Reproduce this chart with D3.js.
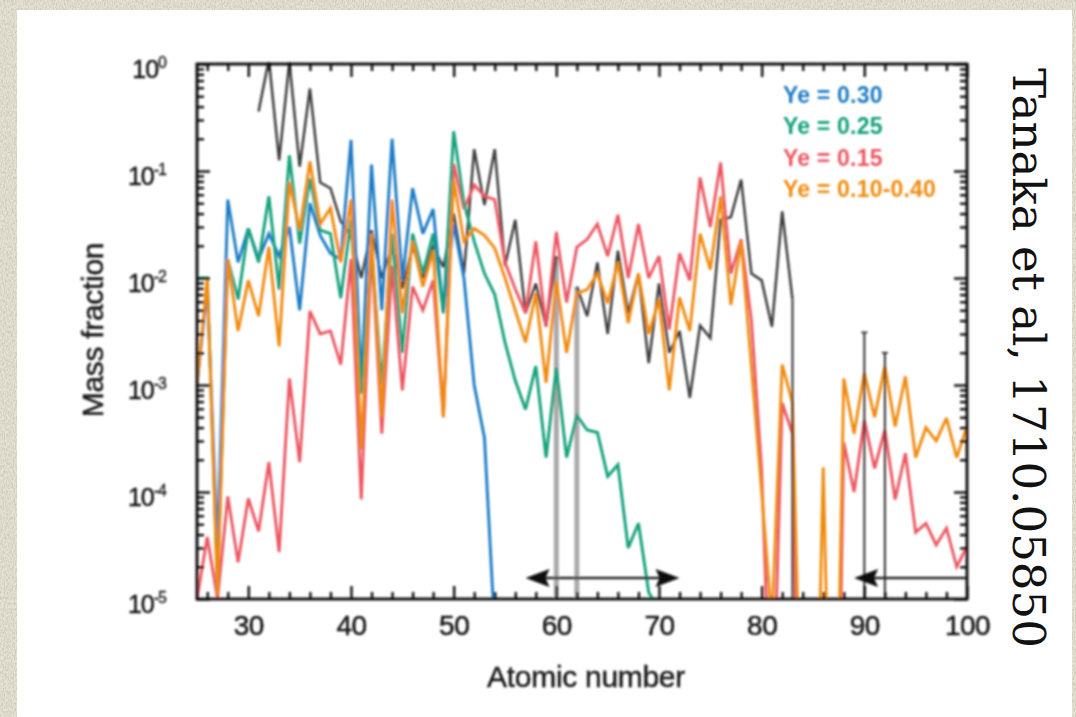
<!DOCTYPE html>
<html>
<head>
<meta charset="utf-8">
<script src="https://cdn.jsdelivr.net/npm/d3@7"></script>
<style>
  html, body { margin: 0; padding: 0; background: #e4e1d0; }
  svg { display: block; }
</style>
</head>
<body>
<svg id="chart" width="1076" height="717"></svg>
<script>
// Mass fraction of r-process elements vs atomic number, [Z, mass fraction].
// null marks elements without a value (line breaks there).
const ye030 = [
  [25,1.0e-3],[26,8.0e-3],[27,3.0e-5],[28,5.4e-2],[29,1.4e-2],[30,2.9e-2],[31,1.5e-2],[32,2.6e-2],
  [33,1.6e-2],[34,3.0e-2],[35,5.0e-3],[36,5.0e-2],[37,2.5e-2],[38,1.7e-2],[39,1.5e-2],[40,1.95e-1],
  [41,1.0e-3],[42,1.15e-1],[43,5.0e-3],[44,2.0e-1],[45,9.5e-3],[46,6.9e-2],[47,2.6e-2],[48,4.4e-2],
  [49,4.7e-3],[50,3.2e-2],[51,1.0e-2],[52,1.0e-3],[53,3.2e-4],[54,5.0e-6]
];
const ye025 = [
  [25,1.0e-2],[26,1.0e-2],[27,1.3e-5],[28,1.5e-2],[29,6.3e-3],[30,2.9e-2],[31,1.4e-2],[32,5.8e-2],
  [33,7.8e-3],[34,1.4e-1],[35,2.1e-2],[36,8.5e-2],[37,2.8e-2],[38,2.6e-2],[39,6.5e-3],[40,3.5e-2],
  [41,8.3e-4],[42,1.95e-2],[43,1.0e-3],[44,2.6e-2],[45,2.0e-3],[46,2.6e-2],[47,1.1e-2],[48,2.6e-2],
  [49,4.7e-3],[50,2.35e-1],[51,5.0e-2],[52,2.2e-2],[53,1.1e-2],[54,7.0e-3],[55,2.5e-3],[56,1.1e-3],
  [57,5.9e-4],[58,1.5e-3],[59,2.1e-4],[60,1.45e-3],[61,2.1e-4],[62,5.2e-4],[63,3.8e-4],[64,3.6e-4],
  [65,1.4e-4],[66,1.8e-4],[67,3.0e-5],[68,5.1e-5],[69,1.15e-5],[70,8.0e-6]
];
const ye015 = [
  [25,1.0e-5],[26,3.8e-5],[27,1.0e-5],[28,9.1e-5],[29,2.2e-5],[30,8.7e-5],[31,4.3e-5],[32,1.9e-4],
  [33,2.75e-5],[34,1.15e-3],[35,1.9e-4],[36,4.9e-3],[37,3.0e-3],[38,3.2e-3],[39,1.55e-3],[40,1.5e-2],
  [41,8.5e-5],[42,1.95e-2],[43,3.5e-4],[44,1.3e-2],[45,8.9e-4],[46,8.3e-3],[47,5.0e-3],[48,9.5e-3],
  [49,5.0e-4],[50,1.17e-1],[51,4.4e-2],[52,7.4e-2],[53,5.8e-2],[54,5.4e-2],[55,1.4e-2],[56,7.9e-3],
  [57,4.7e-3],[58,2.2e-2],[59,3.5e-3],[60,2.7e-2],[61,5.9e-3],[62,1.95e-2],[63,2.3e-2],[64,3.2e-2],
  [65,1.6e-2],[66,3.9e-2],[67,1.0e-2],[68,3.2e-2],[69,1.0e-2],[70,1.6e-2],[71,3.3e-3],[72,1.7e-2],
  [73,9.5e-3],[74,8.7e-2],[75,3.0e-2],[76,1.2e-1],[77,1.1e-2],[78,2.3e-2],[79,4.0e-3],[80,1.6e-4],
  [81,3.0e-7],[82,6.8e-4],[83,3.5e-4],[84,1.0e-9],[85,null],[86,null],[87,1.0e-9],[88,2.9e-4],
  [89,1.0e-4],[90,4.7e-4],[91,1.66e-4],[92,3.8e-4],[93,8.5e-5],[94,2.3e-4],[95,4.2e-5],[96,5.1e-5],
  [97,3.2e-5],[98,4.6e-5],[99,2.0e-5],[100,3.1e-5]
];
const ye010to040 = [
  [25,1.0e-3],[26,1.0e-2],[27,1.1e-5],[28,1.5e-2],[29,3.2e-3],[30,9.5e-3],[31,4.4e-3],[32,1.95e-2],
  [33,2.3e-3],[34,7.9e-2],[35,2.8e-2],[36,1.23e-1],[37,3.2e-2],[38,4.5e-2],[39,1.4e-2],[40,5.4e-2],
  [41,2.5e-4],[42,2.6e-2],[43,5.0e-4],[44,5.4e-2],[45,4.7e-3],[46,2.2e-2],[47,8.3e-3],[48,1.8e-2],
  [49,5.0e-4],[50,8.3e-2],[51,2.2e-2],[52,2.9e-2],[53,2.5e-2],[54,1.9e-2],[55,1.0e-2],[56,5.0e-3],
  [57,2.5e-3],[58,7.2e-3],[59,1.05e-3],[60,9.5e-3],[61,2.0e-3],[62,7.2e-3],[63,7.8e-3],[64,1.1e-2],
  [65,5.8e-3],[66,1.4e-2],[67,3.8e-3],[68,1.1e-2],[69,3.0e-3],[70,6.3e-3],[71,8.9e-4],[72,6.6e-3],
  [73,3.2e-3],[74,2.6e-2],[75,1.2e-2],[76,5.8e-2],[77,5.6e-3],[78,2.2e-2],[79,1.5e-3],[80,1.0e-4],
  [81,6.0e-6],[82,1.55e-3],[83,6.8e-4],[84,1.0e-7],[85,1.0e-8],[86,1.7e-4],[87,1.0e-8],[88,1.15e-3],
  [89,3.5e-4],[90,1.3e-3],[91,5.0e-4],[92,1.5e-3],[93,4.1e-4],[94,1.2e-3],[95,2.1e-4],[96,4.0e-4],
  [97,3.0e-4],[98,4.9e-4],[99,2.1e-4],[100,4.1e-4]
];
// Solar r-process pattern
const solarR = [
  [31,3.6e-1],[32,1.1],[33,1.26e-1],[34,1.05],[35,1.1e-1],[36,5.9e-1],[37,7.8e-2],[38,6.9e-2],
  [39,3.4e-2],[40,2.5e-2],[41,1.0e-2],[42,2.8e-2],[43,1.0e-2],[44,2.0e-2],[45,8.0e-3],[46,2.0e-2],
  [47,1.0e-2],[48,2.0e-2],[49,1.26e-2],[50,4.0e-2],[51,1.1e-2],[52,1.6e-1],[53,4.8e-2],[54,1.6e-1],
  [55,1.3e-2],[56,3.5e-2],[57,4.7e-3],[58,8.9e-3],[59,3.5e-3],[60,1.6e-2],[61,null],[62,8.3e-3],
  [63,4.4e-3],[64,1.4e-2],[65,3.0e-3],[66,1.8e-2],[67,4.7e-3],[68,1.1e-2],[69,1.6e-3],[70,8.9e-3],
  [71,2.0e-3],[72,3.2e-3],[73,7.6e-4],[74,3.6e-3],[75,2.75e-3],[76,3.5e-2],[77,3.7e-2],[78,8.3e-2],
  [79,1.1e-2],[80,9.5e-3],[81,3.5e-3],[82,4.2e-2],[83,6.3e-3],[84,null],[89,null],[90,3.1e-3],
  [91,null],[92,2.0e-3]
];
// Solar points whose line drops to the axis floor
const gapEdgeZ = [60, 62];        // either side of Pm
const floorDropZ = [83, 90, 92];  // Bi, Th, U
const cappedZ = [90, 92];

const seriesOrder = ["solar", "ye015", "ye030", "ye025", "ye010to040"];
const seriesData = { solar: solarR, ye015: ye015, ye030: ye030, ye025: ye025, ye010to040: ye010to040 };
const seriesColor = { solar: "#3d3d3d", ye015: "#ec5662", ye030: "#1f7cc6", ye025: "#12a07a", ye010to040: "#f08a10" };

const legendLabels = ["Ye = 0.30", "Ye = 0.25", "Ye = 0.15", "Ye = 0.10-0.40"];
const legendKeys = ["ye030", "ye025", "ye015", "ye010to040"];

// Lanthanide / actinide ranges, drawn as arrows along the floor
const lanthanideRange = [57, 72];
const actinideRange = [89, 100];

const xTicksMajor = [30, 40, 50, 60, 70, 80, 90, 100];
const xTicksMinor = [26, 28, 32, 34, 36, 38, 42, 44, 46, 48, 52, 54, 56, 58, 62, 64, 66, 68, 72, 74, 76, 78, 82, 84, 86, 88, 92, 94, 96, 98];
const yTicksMajor = [1e-5, 1e-4, 1e-3, 1e-2, 1e-1, 1];

const W = 1076, H = 717;
const plot = { left: 197, right: 967, top: 64, bottom: 599 };

const svg = d3.select("#chart");
const defs = svg.append("defs");

// paper texture for the surround
const tex = defs.append("filter").attr("id", "paper").attr("x", 0).attr("y", 0).attr("width", 1).attr("height", 1);
tex.append("feTurbulence").attr("type", "fractalNoise").attr("baseFrequency", "0.9 0.35").attr("numOctaves", 3).attr("seed", 7).attr("result", "n");
tex.append("feColorMatrix").attr("in", "n").attr("type", "matrix")
  .attr("values", "0 0 0 0 0.55  0 0 0 0 0.53  0 0 0 0 0.45  0 0 0 -1.6 1.05");
const soft = defs.append("filter").attr("id", "soft").attr("x", -0.05).attr("y", -0.05).attr("width", 1.1).attr("height", 1.1);
soft.append("feGaussianBlur").attr("stdDeviation", 0.8);

defs.append("clipPath").attr("id", "plotClip").append("rect")
  .attr("x", plot.left).attr("y", plot.top - 2).attr("width", plot.right - plot.left).attr("height", plot.bottom - plot.top + 2);

svg.append("rect").attr("width", W).attr("height", H).attr("fill", "#e6e3d3");
svg.append("rect").attr("width", W).attr("height", H).attr("filter", "url(#paper)");
svg.append("rect").attr("x", 17).attr("y", 10).attr("width", 1055).attr("height", H - 10).attr("fill", "#ffffff");

const x = d3.scaleLinear().domain([25, 100]).range([plot.left, plot.right]);
const y = d3.scaleLog().domain([1e-5, 1]).range([plot.bottom, plot.top]);

const fig = svg.append("g").attr("filter", "url(#soft)");

// series lines
const lines = fig.append("g").attr("clip-path", "url(#plotClip)");
const line = d3.line().defined(d => d[1] != null).x(d => x(d[0])).y(d => y(d[1]));

const solarVal = z => (solarR.find(d => d[0] === z) || [z, null])[1];

// solar drops to the floor on either side of the Pm gap
lines.selectAll("line.gap").data(gapEdgeZ).join("line").attr("class", "gap")
  .attr("x1", d => x(d)).attr("x2", d => x(d))
  .attr("y1", d => y(solarVal(d))).attr("y2", plot.bottom)
  .attr("stroke", "#a9a9a9").attr("stroke-width", 5);

seriesOrder.forEach(key => {
  lines.append("path").datum(seriesData[key])
    .attr("fill", "none").attr("stroke", seriesColor[key])
    .attr("stroke-width", key === "solar" ? 2.5 : 2.9)
    .attr("stroke-linejoin", "miter").attr("stroke-miterlimit", 3)
    .attr("d", line);
});

lines.selectAll("line.drop").data(floorDropZ).join("line").attr("class", "drop")
  .attr("x1", d => x(d)).attr("x2", d => x(d))
  .attr("y1", d => y(solarVal(d))).attr("y2", plot.bottom)
  .attr("stroke", "#2f2f2f").attr("stroke-width", 2);
lines.selectAll("line.cap").data(cappedZ).join("line").attr("class", "cap")
  .attr("x1", d => x(d) - 3).attr("x2", d => x(d) + 3)
  .attr("y1", d => y(solarVal(d))).attr("y2", d => y(solarVal(d)))
  .attr("stroke", "#2f2f2f").attr("stroke-width", 1.8);

// lanthanide / actinide arrows
const arrowY = 578;
function arrowHead(g, tipX, dir) {
  const len = 24, half = 9;
  g.append("path")
    .attr("d", `M${tipX},${arrowY} L${tipX + dir * len},${arrowY - half} L${tipX + dir * (len - 4)},${arrowY} L${tipX + dir * len},${arrowY + half} Z`)
    .attr("fill", "#111");
}
const arrows = fig.append("g");
arrows.append("line").attr("x1", x(lanthanideRange[0]) + 8).attr("x2", x(lanthanideRange[1]) - 8)
  .attr("y1", arrowY).attr("y2", arrowY).attr("stroke", "#262626").attr("stroke-width", 2.6);
arrowHead(arrows, x(lanthanideRange[0]), 1);
arrowHead(arrows, x(lanthanideRange[1]), -1);
arrows.append("line").attr("x1", x(actinideRange[0]) + 8).attr("x2", x(actinideRange[1]))
  .attr("y1", arrowY).attr("y2", arrowY).attr("stroke", "#262626").attr("stroke-width", 2.6);
arrowHead(arrows, x(actinideRange[0]), 1);

// axes: inward ticks on all four sides
const axFont = "'Liberation Sans', Arial, sans-serif";
const tickMajor = 13, tickMinor = 7;
const ink = "#161616";

function styleAxis(g) {
  g.select(".domain").remove();
  g.selectAll(".tick line").attr("stroke", "#111").attr("stroke-width", 2.4);
}
const gxB = fig.append("g").attr("transform", `translate(0,${plot.bottom})`)
  .call(d3.axisBottom(x).tickValues(xTicksMajor).tickSize(-tickMajor).tickPadding(16).tickFormat(d3.format("d")));
styleAxis(gxB);
gxB.selectAll("text").attr("font-family", axFont).attr("font-size", 28).attr("fill", ink)
  .attr("stroke", ink).attr("stroke-width", 0.5).attr("letter-spacing", "-0.5px");
fig.append("g").attr("transform", `translate(0,${plot.bottom})`)
  .call(d3.axisBottom(x).tickValues(xTicksMinor).tickSize(-tickMinor).tickFormat("")).call(styleAxis);
fig.append("g").attr("transform", `translate(0,${plot.top})`)
  .call(d3.axisTop(x).tickValues(xTicksMajor).tickSize(-tickMajor).tickFormat("")).call(styleAxis);
fig.append("g").attr("transform", `translate(0,${plot.top})`)
  .call(d3.axisTop(x).tickValues(xTicksMinor).tickSize(-tickMinor).tickFormat("")).call(styleAxis);

const yMinor = [];
yTicksMajor.slice(0, -1).forEach(dec => { for (let k = 2; k <= 9; k++) yMinor.push(dec * k); });

const gyL = fig.append("g").attr("transform", `translate(${plot.left},0)`)
  .call(d3.axisLeft(y).tickValues(yTicksMajor).tickSize(-tickMajor).tickPadding(31).tickFormat(() => ""));
styleAxis(gyL);
gyL.selectAll(".tick text").each(function (d) {
  const t = d3.select(this).attr("font-family", axFont).attr("font-size", 25).attr("fill", ink)
    .attr("stroke", ink).attr("stroke-width", 0.5)
    .attr("dy", "0.55em").attr("letter-spacing", "-1px");
  t.append("tspan").text("10");
  t.append("tspan").attr("dy", "-0.62em").attr("font-size", 16).attr("stroke-width", 0.3)
    .text(String(Math.round(Math.log10(d))));
});
fig.append("g").attr("transform", `translate(${plot.left},0)`)
  .call(d3.axisLeft(y).tickValues(yMinor).tickSize(-tickMinor).tickFormat("")).call(styleAxis);
fig.append("g").attr("transform", `translate(${plot.right},0)`)
  .call(d3.axisRight(y).tickValues(yTicksMajor).tickSize(-tickMajor).tickFormat("")).call(styleAxis);
fig.append("g").attr("transform", `translate(${plot.right},0)`)
  .call(d3.axisRight(y).tickValues(yMinor).tickSize(-tickMinor).tickFormat("")).call(styleAxis);

// frame
fig.append("rect").attr("x", plot.left).attr("y", plot.top)
  .attr("width", plot.right - plot.left).attr("height", plot.bottom - plot.top)
  .attr("fill", "none").attr("stroke", "#111").attr("stroke-width", 3);

// axis titles
fig.append("text").attr("x", 586).attr("y", 687)
  .attr("text-anchor", "middle").attr("font-family", axFont).attr("font-size", 30)
  .attr("letter-spacing", "-0.3px").attr("fill", ink).attr("stroke", ink).attr("stroke-width", 0.4)
  .text("Atomic number");
fig.append("text").attr("transform", `translate(103,330) rotate(-90)`)
  .attr("text-anchor", "middle").attr("font-family", axFont).attr("font-size", 30)
  .attr("letter-spacing", "-0.3px").attr("fill", ink).attr("stroke", ink).attr("stroke-width", 0.4)
  .text("Mass fraction");

// legend
const legendBase = [103, 134, 166, 197];
fig.append("g").selectAll("text").data(legendLabels).join("text")
  .attr("x", 783).attr("y", (d, i) => legendBase[i])
  .attr("font-family", axFont).attr("font-weight", "bold").attr("font-size", 23)
  .attr("letter-spacing", "0.2px")
  .attr("fill", (d, i) => seriesColor[legendKeys[i]]).text(d => d);

// citation
svg.append("text").attr("transform", "translate(1013,68) rotate(90)")
  .attr("font-family", "'DejaVu Serif', 'Liberation Serif', serif").attr("font-size", 44)
  .attr("textLength", 580).attr("lengthAdjust", "spacingAndGlyphs")
  .attr("fill", "#111").text("Tanaka et al, 1710.05850");
</script>
</body>
</html>
